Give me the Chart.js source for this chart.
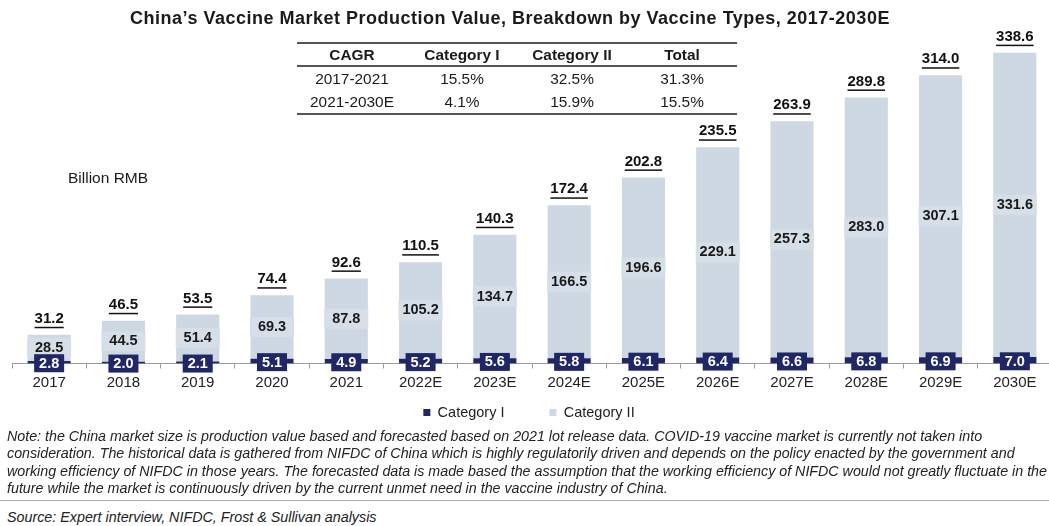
<!DOCTYPE html>
<html>
<head>
<meta charset="utf-8">
<script src="https://cdn.jsdelivr.net/npm/chart.js@4"></script>
<style>
  html, body { margin: 0; padding: 0; background: #fff; overflow: hidden; width: 1049px; height: 526px; }
  body { position: relative; font-family: "Liberation Sans", Arial, sans-serif; color: #1a1a1a; }
  #wrap { position: absolute; left: 0; top: 0; width: 1056px; height: 470px; }
  #title { position: absolute; left: 0; width: 1020px; top: 8px; text-align: center; font-weight: bold; font-size: 18px; letter-spacing: 0.5px; }
  #unit { position: absolute; left: 68px; top: 169px; font-size: 15.5px; }
  table { position: absolute; left: 297px; top: 42px; border-collapse: collapse; font-size: 15.4px; }
  table td, table th { width: 110px; text-align: center; padding: 0; }
  table th { height: 21px; border-top: 2px solid #555; border-bottom: 2px solid #555; font-weight: bold; }
  table td { height: 23px; }
  table tr.last td { border-bottom: 2px solid #555; }
  #notes { position: absolute; left: 7px; top: 428px; font-size: 14.25px; font-style: italic; line-height: 17.4px; color: #222; white-space: nowrap; }
  #sep { position: absolute; left: 0; top: 500px; width: 1049px; height: 1px; background: #aaa; }
  #source { position: absolute; left: 7px; top: 509px; font-size: 14.3px; font-style: italic; color: #222; white-space: nowrap; }
</style>
</head>
<body>
<div id="wrap"><canvas id="c" width="1056" height="470"></canvas></div>
<div id="title">China’s Vaccine Market Production Value, Breakdown by Vaccine Types, 2017-2030E</div>
<div id="unit">Billion RMB</div>
<table>
  <tr><th>CAGR</th><th>Category I</th><th>Category II</th><th>Total</th></tr>
  <tr><td>2017-2021</td><td>15.5%</td><td>32.5%</td><td>31.3%</td></tr>
  <tr class="last"><td>2021-2030E</td><td>4.1%</td><td>15.9%</td><td>15.5%</td></tr>
</table>
<div id="notes">
  <div>Note: the China market size is production value based and forecasted based on 2021 lot release data. COVID-19 vaccine market is currently not taken into</div>
  <div>consideration. The historical data is gathered from NIFDC of China which is highly regulatorily driven and depends on the policy enacted by the government and</div>
  <div>working efficiency of NIFDC in those years. The forecasted data is made based the assumption that the working efficiency of NIFDC would not greatly fluctuate in the</div>
  <div>future while the market is continuously driven by the current unmet need in the vaccine industry of China.</div>
</div>
<div id="sep"></div>
<div id="source">Source: Expert interview, NIFDC, Frost &amp; Sullivan analysis</div>
<script>
const years = ['2017','2018','2019','2020','2021','2022E','2023E','2024E','2025E','2026E','2027E','2028E','2029E','2030E'];
const categoryI = [2.8, 2.0, 2.1, 5.1, 4.9, 5.2, 5.6, 5.8, 6.1, 6.4, 6.6, 6.8, 6.9, 7.0];
const categoryII = [28.5, 44.5, 51.4, 69.3, 87.8, 105.2, 134.7, 166.5, 196.6, 229.1, 257.3, 283.0, 307.1, 331.6];
const totals = [31.2, 46.5, 53.5, 74.4, 92.6, 110.5, 140.3, 172.4, 202.8, 235.5, 263.9, 289.8, 314.0, 338.6];

const NAVY = '#1f2766';
const LIGHT = '#cdd8e3';
const FONT = '"Liberation Sans", Arial, sans-serif';

const labelPlugin = {
  id: 'labels',
  afterLayout(chart) {
    const lg = chart.legend;
    if (lg) {
      const h = lg.height;
      const pad = lg.options.labels.padding;
      lg.top = chart.chartArea.bottom + 49 - pad - 7.25;
      lg.bottom = lg.top + h;
      lg.left -= 3;
      lg.right -= 3;
    }
  },
  afterDatasetsDraw(chart) {
    const ctx = chart.ctx;
    const m1 = chart.getDatasetMeta(0);
    const m2 = chart.getDatasetMeta(1);
    ctx.save();
    ctx.textAlign = 'center';
    ctx.textBaseline = 'middle';
    m2.data.forEach((bar, i) => {
      const cy = (bar.y + bar.base) / 2;
      ctx.fillStyle = '#d6dee8';
      ctx.fillRect(bar.x - 22, cy - 10, 44, 20);
      ctx.fillStyle = '#1a1a1a';
      ctx.font = 'bold 14.5px ' + FONT;
      ctx.fillText(categoryII[i].toFixed(1), bar.x, cy);
    });
    m1.data.forEach((bar, i) => {
      const cy = (bar.y + bar.base) / 2;
      ctx.fillStyle = NAVY;
      ctx.fillRect(bar.x - 15, cy - 8, 30, 18);
      ctx.fillStyle = '#ffffff';
      ctx.font = 'bold 14.5px ' + FONT;
      ctx.fillText(categoryI[i].toFixed(1), bar.x, cy + 1.5);
    });
    m2.data.forEach((bar, i) => {
      const y = bar.y - 16;
      const txt = totals[i].toFixed(1);
      ctx.fillStyle = '#111';
      ctx.font = 'bold 15px ' + FONT;
      ctx.fillText(txt, bar.x, y);
      const w = ctx.measureText(txt).width;
      ctx.fillRect(bar.x - w / 2, y + 8, w, 1.5);
    });
    ctx.restore();
  }
};

new Chart(document.getElementById('c'), {
  type: 'bar',
  data: {
    labels: years,
    datasets: [
      { label: 'Category I', data: categoryI, backgroundColor: NAVY, borderWidth: 0 },
      { label: 'Category II', data: categoryII, backgroundColor: LIGHT, borderWidth: 0 }
    ]
  },
  options: {
    responsive: false,
    devicePixelRatio: 1,
    animation: false,
    events: [],
    layout: { padding: { top: 33, left: 12, right: 4, bottom: 4 } },
    datasets: { bar: { barPercentage: 0.58, categoryPercentage: 1 } },
    scales: {
      x: {
        stacked: true,
        border: { display: true, color: '#9a9a9a', width: 1 },
        grid: { display: true, drawOnChartArea: false, drawTicks: true, tickLength: 5, color: '#9a9a9a', offset: true },
        ticks: { color: '#222', font: { family: FONT, size: 15 }, padding: 5, maxRotation: 0, autoSkip: false }
      },
      y: { stacked: true, display: false, min: 0, max: 360 }
    },
    plugins: {
      legend: {
        position: 'bottom',
        labels: { boxWidth: 7, boxHeight: 7, padding: 45, color: '#222', font: { family: FONT, size: 14.5 } }
      },
      tooltip: { enabled: false },
      title: { display: false }
    }
  },
  plugins: [labelPlugin]
});
</script>
</body>
</html>
